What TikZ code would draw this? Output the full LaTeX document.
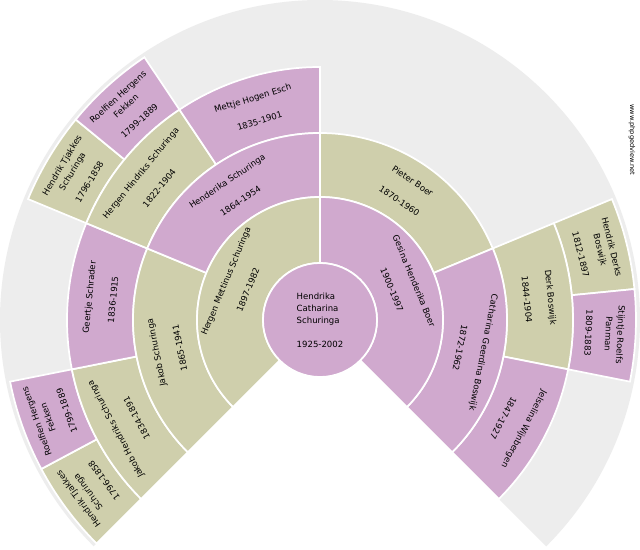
\documentclass[tikz,border=0pt]{standalone}
\usepackage{fontspec}
\setmainfont{DejaVu Sans}
\definecolor{fanmale}{HTML}{CFCFAC}
\definecolor{fanfemale}{HTML}{D0A9CE}
\definecolor{fangrey}{HTML}{EDEDED}
% sector: colour, start angle, end angle, inner radius, outer radius
\newcommand\fansector[5]{\fill[#1, draw=white, line width=1.3pt] (#2:#4) arc (#2:#3:#4) -- (#3:#5) arc (#3:#2:#5) -- cycle;}

\begin{document}
\begin{tikzpicture}[x=0.75pt, y=0.75pt,
    every node/.style={font=\fontsize{6.4}{9}\selectfont, align=center, inner sep=0pt}]
	\useasboundingbox[fill=white] (-320,-230) rectangle (320,320);
	\fill[fangrey] (0,0) -- (225:320) arc (225:-45:320) -- cycle;
	% ring 4
	\fansector{fanmale}{225}{208.125}{253}{316}
	\fansector{fanfemale}{208.125}{191.25}{253}{316}
	\fansector{fanmale}{157.5}{140.625}{253}{316}
	\fansector{fanfemale}{140.625}{123.75}{253}{316}
	\fansector{fanmale}{22.5}{5.625}{253}{316}
	\fansector{fanfemale}{5.625}{-11.25}{253}{316}
	% ring 3
	\fansector{fanmale}{225}{191.25}{187}{253}
	\fansector{fanfemale}{191.25}{157.5}{187}{253}
	\fansector{fanmale}{157.5}{123.75}{187}{253}
	\fansector{fanfemale}{123.75}{90}{187}{253}
	\fansector{fanmale}{22.5}{-11.25}{187}{253}
	\fansector{fanfemale}{-11.25}{-45}{187}{253}
	% ring 2
	\fansector{fanmale}{225}{157.5}{123}{187}
	\fansector{fanfemale}{157.5}{90}{123}{187}
	\fansector{fanmale}{90}{22.5}{123}{187}
	\fansector{fanfemale}{22.5}{-45}{123}{187}
	% ring 1
	\fansector{fanmale}{225}{90}{57}{123}
	\fansector{fanfemale}{90}{-45}{57}{123}
	\fill[fanfemale, draw=white, line width=1.3pt] (0,0) circle (57);

	\node[align=left] (root) at (0,0) {Hendrika\\Catharina\\Schuringa\\[9pt]1925-2002};

	\node[rotate=67.5] (father) at (157.5:90) {Hergen Mettinus Schuringa\\[9pt]1897-1982};
	\node[rotate=-67.5] (mother) at (22.5:90) {Gesina Henderika Boer\\[9pt]1900-1997};

	\node[rotate=101.25] (ff) at (191.25:155) {Jakob Schuringa\\[9pt]1865-1941};
	\node[rotate=33.75] (fm) at (123.75:155) {Henderika Schuringa\\[9pt]1864-1954};
	\node[rotate=-33.75] (mf) at (56.25:155) {Pieter Boer\\[9pt]1870-1960};
	\node[rotate=-101.25] (mm) at (-11.25:155) {Catharina Geerdina Boswijk\\[9pt]1872-1962};

	\node[rotate=118.125] (fff) at (208.125:220) {Jakob Hendriks Schuringa\\[9pt]1834-1891};
	\node[rotate=84.375] (ffm) at (174.375:220) {Geertje Schrader\\[9pt]1836-1915};
	\node[rotate=50.625] (fmf) at (140.625:220) {Hergen Hindriks Schuringa\\[9pt]1822-1904};
	\node[rotate=16.875] (fmm) at (106.875:220) {Mettje Hogen Esch\\[9pt]1835-1901};
	\node[rotate=-84.375] (mmf) at (5.625:220) {Derk Boswijk\\[9pt]1844-1904};
	\node[rotate=-118.125] (mmm) at (-28.125:220) {Jelselina Wijnbergen\\[9pt]1847-1927};

	\node[rotate=126.56] (ffff) at (216.56:285) {Hendrik Tjakkes\\Schuringa\\[6pt]1796-1858};
	\node[rotate=109.69] (fffm) at (199.69:285) {Roelfien Hergens\\Fekken\\[6pt]1799-1889};
	\node[rotate=59.06] (fmff) at (149.06:285) {Hendrik Tjakkes\\Schuringa\\[6pt]1796-1858};
	\node[rotate=42.19] (fmfm) at (132.19:285) {Roelfien Hergens\\Fekken\\[6pt]1799-1889};
	\node[rotate=-75.94] (mmff) at (14.06:285) {Hendrik Derks\\Boswijk\\[6pt]1812-1897};
	\node[rotate=-92.81] (mmfm) at (-2.81:285) {Stijntje Roelfs\\Panman\\[6pt]1809-1883};

	\node[rotate=-90, font=\fontsize{5}{6}\selectfont] (site) at (312,180) {www.phpgedview.net};
\end{tikzpicture}
\end{document}
